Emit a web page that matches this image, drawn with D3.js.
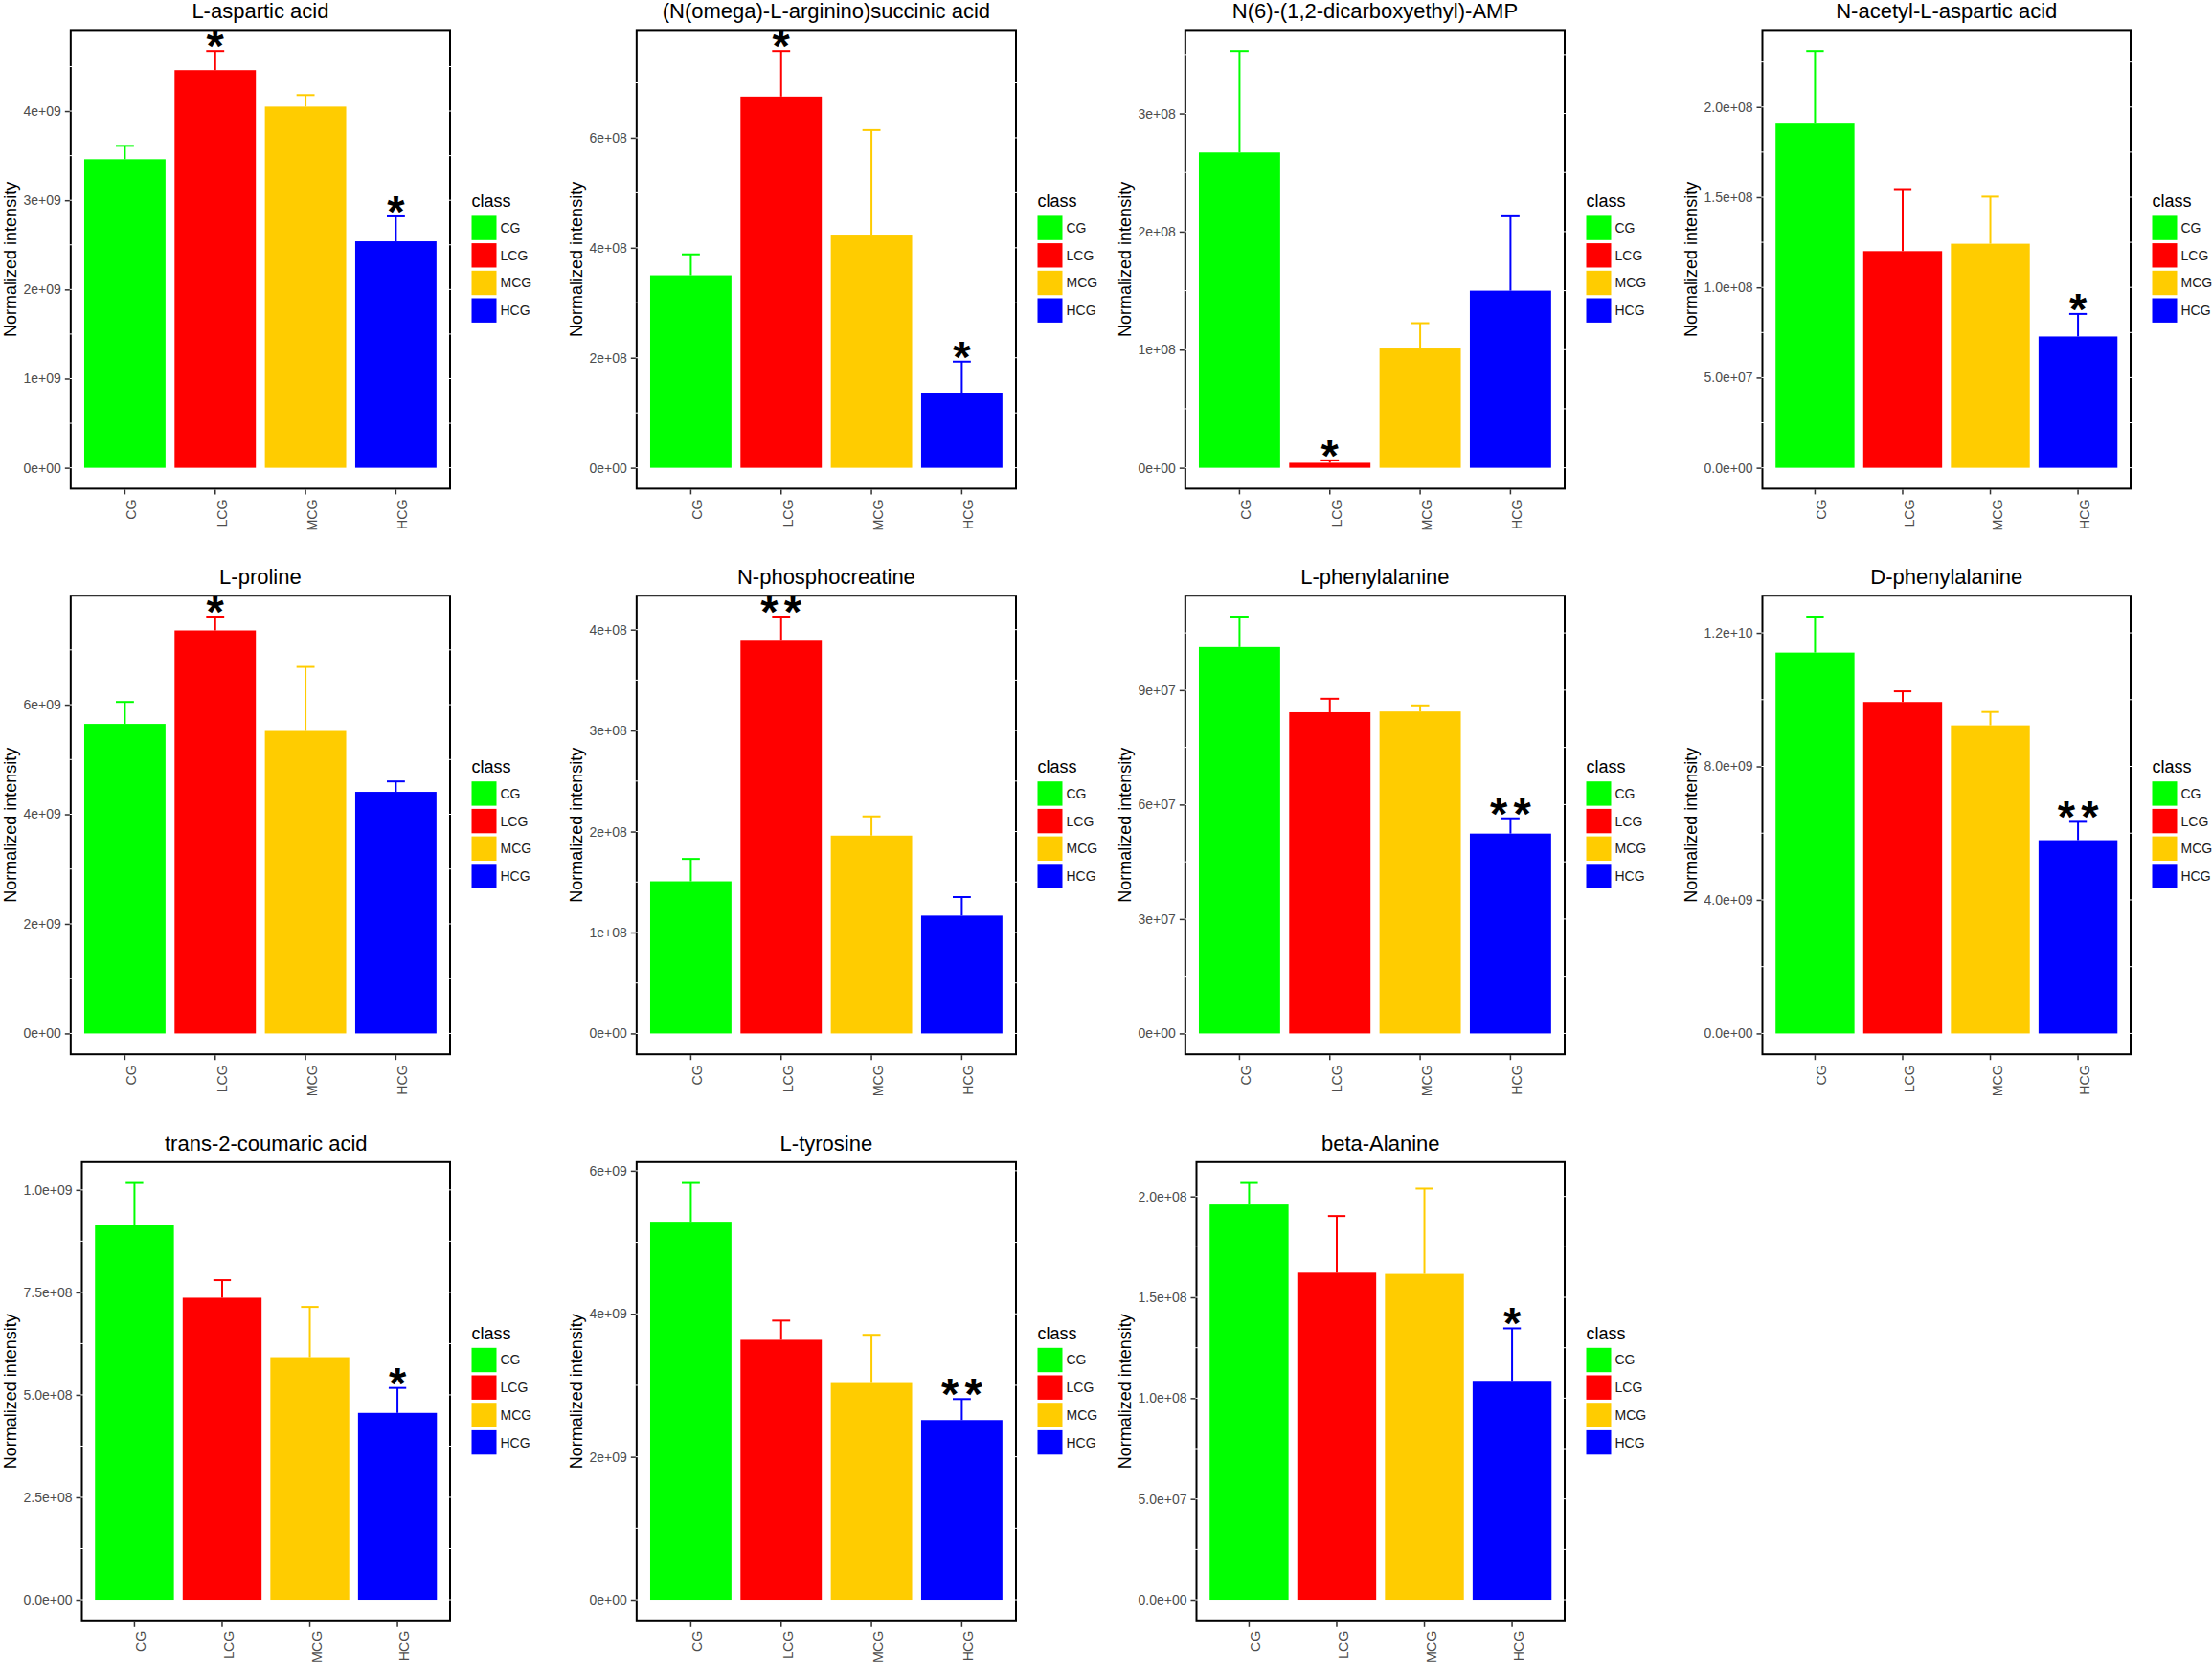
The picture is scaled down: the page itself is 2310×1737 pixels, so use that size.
<!DOCTYPE html>
<html>
<head>
<meta charset="utf-8">
<script src="https://cdn.jsdelivr.net/npm/d3@7"></script>
<style>
  html, body { margin: 0; padding: 0; background: #fff; }
  svg { display: block; font-family: "Liberation Sans", Arial, Helvetica, sans-serif; }
</style>
</head>
<body>
<svg id="chart" width="2310" height="1737"></svg>
<script>
// ---------------- data ----------------
const categories = ["CG", "LCG", "MCG", "HCG"];
const classColors = ["#00FF00", "#FF0000", "#FFCC00", "#0000FF"];

const titles = [
  "L-aspartic acid",
  "(N(omega)-L-arginino)succinic acid",
  "N(6)-(1,2-dicarboxyethyl)-AMP",
  "N-acetyl-L-aspartic acid",
  "L-proline",
  "N-phosphocreatine",
  "L-phenylalanine",
  "D-phenylalanine",
  "trans-2-coumaric acid",
  "L-tyrosine",
  "beta-Alanine"
];

const means = [
  [3.46e9, 4.46e9, 4.05e9, 2.54e9],
  [3.50e8, 6.75e8, 4.24e8, 1.36e8],
  [2.67e8, 0.042e8, 1.01e8, 1.50e8],
  [1.913e8, 1.201e8, 1.242e8, 0.728e8],
  [5.65e9, 7.355e9, 5.52e9, 4.41e9],
  [1.507e8, 3.89e8, 1.96e8, 1.167e8],
  [1.013e8, 8.42e7, 8.44e7, 5.24e7],
  [1.141e10, 9.93e9, 9.23e9, 5.79e9],
  [9.14e8, 7.37e8, 5.92e8, 4.56e8],
  [5.287e9, 3.636e9, 3.032e9, 2.514e9],
  [1.960e8, 1.622e8, 1.616e8, 1.086e8]
];

const errors = [
  [0.15e9, 0.215e9, 0.13e9, 0.28e9],
  [0.38e8, 0.83e8, 1.90e8, 0.57e8],
  [0.86e8, 0.021e8, 0.215e8, 0.63e8],
  [0.398e8, 0.344e8, 0.261e8, 0.125e8],
  [0.40e9, 0.254e9, 1.17e9, 0.19e9],
  [0.222e8, 0.24e8, 0.19e8, 0.184e8],
  [0.80e7, 0.355e7, 0.16e7, 0.40e7],
  [1.08e9, 0.32e9, 0.40e9, 0.55e9],
  [1.03e8, 0.43e8, 1.225e8, 0.61e8],
  [0.543e9, 0.269e9, 0.674e9, 0.294e9],
  [0.107e8, 0.281e8, 0.423e8, 0.26e8]
];

const significance = [
  ["", "*", "", "*"],
  ["", "*", "", "*"],
  ["", "*", "", ""],
  ["", "", "", "*"],
  ["", "*", "", ""],
  ["", "**", "", ""],
  ["", "", "", "**"],
  ["", "", "", "**"],
  ["", "", "", "*"],
  ["", "", "", "**"],
  ["", "", "", "*"]
];

const tickValues = [
  [0, 1e9, 2e9, 3e9, 4e9],
  [0, 2e8, 4e8, 6e8],
  [0, 1e8, 2e8, 3e8],
  [0, 5e7, 1e8, 1.5e8, 2e8],
  [0, 2e9, 4e9, 6e9],
  [0, 1e8, 2e8, 3e8, 4e8],
  [0, 3e7, 6e7, 9e7],
  [0, 4e9, 8e9, 1.2e10],
  [0, 2.5e8, 5e8, 7.5e8, 1e9],
  [0, 2e9, 4e9, 6e9],
  [0, 5e7, 1e8, 1.5e8, 2e8]
];

const tickLabels = [
  ["0e+00", "1e+09", "2e+09", "3e+09", "4e+09"],
  ["0e+00", "2e+08", "4e+08", "6e+08"],
  ["0e+00", "1e+08", "2e+08", "3e+08"],
  ["0.0e+00", "5.0e+07", "1.0e+08", "1.5e+08", "2.0e+08"],
  ["0e+00", "2e+09", "4e+09", "6e+09"],
  ["0e+00", "1e+08", "2e+08", "3e+08", "4e+08"],
  ["0e+00", "3e+07", "6e+07", "9e+07"],
  ["0.0e+00", "4.0e+09", "8.0e+09", "1.2e+10"],
  ["0.0e+00", "2.5e+08", "5.0e+08", "7.5e+08", "1.0e+09"],
  ["0e+00", "2e+09", "4e+09", "6e+09"],
  ["0.0e+00", "5.0e+07", "1.0e+08", "1.5e+08", "2.0e+08"]
];

const yAxisTitle = "Normalized intensity";
const legendTitle = "class";

// ---------------- layout ----------------
const colYTitleX = [11, 602, 1175, 1766];
const colRight = [470, 1061, 1634, 2225];
const rowTop = [31.4, 622.2, 1213.8];
const boxH = 479;

const svg = d3.select("#chart");
svg.append("rect").attr("width", 2310).attr("height", 1737).attr("fill", "#fff");

function drawPanel(i) {
  const col = i % 4, row = Math.floor(i / 4);
  const top = rowTop[row], bottom = top + boxH;
  const right = colRight[col];
  const g = svg.append("g");

  // measure tick label width
  const tmp = g.append("g").attr("font-size", 14);
  tmp.selectAll("text").data(tickLabels[i]).join("text").text(d => d);
  const maxW = d3.max(tmp.selectAll("text").nodes(), n => n.getComputedTextLength());
  tmp.remove();
  const left = colYTitleX[col] + 14 + maxW + 9.5;

  const x = d3.scaleBand().domain(categories).range([left, right])
    .paddingInner(0.1).paddingOuter(0.15);
  const M = d3.max(means[i].map((m, k) => m + errors[i][k]));
  const y = d3.scaleLinear().domain([-0.05 * M, 1.05 * M]).range([bottom, top]);

  // panel border
  g.append("rect").attr("x", left).attr("y", top)
    .attr("width", right - left).attr("height", bottom - top)
    .attr("fill", "#fff").attr("stroke", "#000").attr("stroke-width", 2);

  // white grid lines (major + minor) – visible only where they cross the border
  const tv = tickValues[i];
  const step = tv[1] - tv[0];
  const gridVals = [];
  for (let v = tv[0] - step / 2; v <= 1.05 * M; v += step / 2) {
    if (v >= -0.05 * M) gridVals.push(v);
  }
  g.append("g").selectAll("line").data(gridVals).join("line")
    .attr("x1", left - 1.5).attr("x2", right + 1.5)
    .attr("y1", d => y(d)).attr("y2", d => y(d))
    .attr("stroke", "#fff").attr("stroke-width", 1);

  // bars
  g.append("g").selectAll("rect").data(categories).join("rect")
    .attr("x", d => x(d))
    .attr("width", x.bandwidth())
    .attr("y", (d, k) => y(means[i][k]))
    .attr("height", (d, k) => y(0) - y(means[i][k]))
    .attr("fill", (d, k) => classColors[k]);

  // error bars
  const capW = x.step() * 0.2;
  const eg = g.append("g");
  categories.forEach((c, k) => {
    const cx = x(c) + x.bandwidth() / 2;
    const yT = y(means[i][k] + errors[i][k]);
    eg.append("line").attr("x1", cx).attr("x2", cx)
      .attr("y1", y(means[i][k])).attr("y2", yT)
      .attr("stroke", classColors[k]).attr("stroke-width", 2);
    eg.append("line").attr("x1", cx - capW / 2).attr("x2", cx + capW / 2)
      .attr("y1", yT).attr("y2", yT)
      .attr("stroke", classColors[k]).attr("stroke-width", 2);
    // significance stars
    const s = significance[i][k];
    if (s) {
      const n = s.length;
      for (let j = 0; j < n; j++) {
        const off = (j - (n - 1) / 2) * 24.5;
        eg.append("text").attr("x", cx + off).attr("y", yT + 11)
          .attr("text-anchor", "middle").attr("font-size", 47)
          .attr("font-weight", "bold").attr("fill", "#000").text("*");
      }
    }
  });

  // y axis
  const ya = g.append("g").attr("transform", `translate(${left - 1},0)`)
    .call(d3.axisLeft(y).tickValues(tv).tickFormat((d, k) => tickLabels[i][k])
      .tickSize(5).tickPadding(4));
  ya.select(".domain").remove();
  ya.selectAll("line").attr("stroke", "#333").attr("stroke-width", 1.5);
  ya.selectAll("text").attr("font-size", 14).attr("fill", "#4d4d4d")
    .attr("font-family", null);

  // x axis
  const xa = g.append("g").attr("transform", `translate(0,${bottom + 1})`)
    .call(d3.axisBottom(x).tickSize(5));
  xa.select(".domain").remove();
  xa.selectAll("line").attr("stroke", "#333").attr("stroke-width", 1.5);
  xa.selectAll("text")
    .attr("x", 0).attr("y", 0).attr("dy", null)
    .attr("transform", "translate(12,10) rotate(-90)")
    .attr("text-anchor", "end")
    .attr("font-size", 14.2).attr("fill", "#4d4d4d").attr("font-family", null);

  // title
  g.append("text").attr("x", (left + right) / 2).attr("y", top - 12)
    .attr("text-anchor", "middle").attr("font-size", 22).attr("fill", "#000")
    .text(titles[i]);

  // y title
  g.append("text")
    .attr("transform", `translate(${colYTitleX[col]},${(top + bottom) / 2}) rotate(-90)`)
    .attr("text-anchor", "middle").attr("dominant-baseline", "central")
    .attr("font-size", 18).attr("fill", "#000").text(yAxisTitle);

  // legend
  const lx = right + 22.5;
  const lg = g.append("g");
  lg.append("text").attr("x", lx).attr("y", top + 185)
    .attr("font-size", 18).attr("fill", "#000").text(legendTitle);
  const items = lg.selectAll("g.item").data(categories).join("g").attr("class", "item")
    .attr("transform", (d, k) => `translate(${lx},${top + 194 + k * 28.7})`);
  items.append("rect").attr("width", 26).attr("height", 25.4)
    .attr("fill", (d, k) => classColors[k]);
  items.append("text").attr("x", 30).attr("y", 12.7)
    .attr("dominant-baseline", "central").attr("font-size", 14)
    .attr("fill", "#1a1a1a").text(d => d);
}

for (let i = 0; i < titles.length; i++) drawPanel(i);
</script>
</body>
</html>
